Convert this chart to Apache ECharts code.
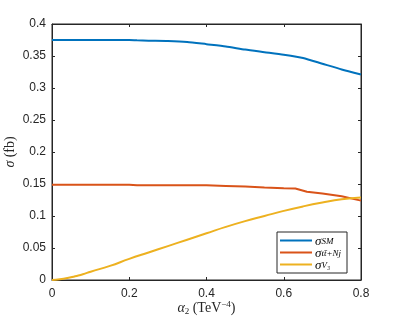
<!DOCTYPE html>
<html><head><meta charset="utf-8">
<script src="https://cdn.jsdelivr.net/npm/echarts@6/dist/echarts.min.js"></script>
<style>html,body{margin:0;padding:0;background:#fff}#c{width:399px;height:319px}</style>
</head><body><div id="c"></div>
<script>
const xSM = [0,0.05,0.1,0.15,0.2,0.22,0.25,0.3,0.35,0.4,0.45,0.5,0.55,0.6,0.65,0.7,0.75,0.8];
const ySM = [0.375,0.375,0.375,0.375,0.375,0.3745,0.374,0.3735,0.372,0.3685,0.365,0.360,0.356,0.352,0.347,0.338,0.329,0.321];
const xTT = [0,0.1,0.2,0.22,0.3,0.4,0.45,0.5,0.55,0.6,0.63,0.66,0.7,0.75,0.8];
const yTT = [0.149,0.149,0.149,0.148,0.148,0.148,0.147,0.146,0.1445,0.1435,0.143,0.138,0.135,0.131,0.124];
const xV = [0,0.02,0.04,0.06,0.08,0.1,0.15,0.2,0.25,0.3,0.35,0.4,0.45,0.5,0.55,0.6,0.65,0.7,0.75,0.8];
const yV = [0,0.001,0.003,0.006,0.009,0.013,0.022,0.033,0.043,0.053,0.063,0.073,0.083,0.092,0.100,0.108,0.115,0.121,0.126,0.129];
const xTicks = [0,0.2,0.4,0.6,0.8];
const yTicks = [0,0.05,0.1,0.15,0.2,0.25,0.3,0.35,0.4];
const names = ['SM','TT','V'];
const zip = (a,b)=>a.map((v,i)=>[v,b[i]]);
const ax = '#262626';
const font = 'Liberation Sans, Arial, sans-serif';
const serif = 'Liberation Serif, serif';
const chart = echarts.init(document.getElementById('c'));
const rich = {
  s:{fontFamily:serif,fontStyle:'italic',fontSize:13,color:'#000',lineHeight:11,verticalAlign:'top'},
  b:{fontFamily:serif,fontStyle:'italic',fontSize:9,color:'#000',lineHeight:8,padding:[4,0,0,0],verticalAlign:'bottom'}
};
const legendLabel = {SM:'{s|σ}{b|SM}', TT:'{s|σ}{b|tt̄+Nj}', V:'{s|σ}{b|V₃}'};
chart.setOption({
  animation:false,
  color:['#0072BD','#D95319','#EDB120'],
  grid:{left:52,right:38,top:24,bottom:39,containLabel:false,outerBoundsMode:'none',show:true,borderColor:ax,borderWidth:1,backgroundColor:'transparent'},
  legend:{
    right:52, bottom:46, orient:'vertical', itemWidth:32, itemHeight:2, itemGap:-3,
    padding:[1,6,1,3], borderColor:'#262626', borderWidth:1, backgroundColor:'#fff',
    icon:'rect',
    data:names,
    formatter:n=>legendLabel[n],
    textStyle:{rich:rich, lineHeight:12, fontSize:9, padding:[0,0,0,-2]}
  },
  xAxis:[{
    type:'value', min:0, max:0.8, interval:0.2,
    name:'{a|α}{b|2} {c|(TeV}{d|−4}{c|)}', nameLocation:'middle', nameGap:20, nameMoveOverlap:false,
    nameTextStyle:{rich:{a:{fontFamily:serif,fontStyle:'italic',fontSize:14,color:ax},b:{fontFamily:serif,fontSize:9,color:ax,padding:[7,0,0,0]},c:{fontFamily:serif,fontSize:14,color:ax},d:{fontFamily:serif,fontSize:9,color:ax,padding:[0,0,6,0]}}},
    axisLine:{show:true,lineStyle:{color:ax,width:1}},
    axisTick:{show:true,inside:true,length:3,lineStyle:{color:ax}},
    axisLabel:{color:ax,fontSize:12,fontFamily:font,margin:8,formatter:v=>String(+(+v).toFixed(2))},
    splitLine:{show:false}
  },{
    type:'value', position:'top', min:0, max:0.8, interval:0.2,
    axisLine:{show:true,onZero:false,lineStyle:{color:ax,width:1}},
    axisTick:{show:true,inside:true,length:3,lineStyle:{color:ax}},
    axisLabel:{show:false}, splitLine:{show:false}
  }],
  yAxis:[{
    type:'value', min:0, max:0.4, interval:0.05,
    name:'{a|σ} {c|(fb)}', nameLocation:'middle', nameGap:35, nameMoveOverlap:false,
    nameTextStyle:{rich:{a:{fontFamily:serif,fontStyle:'italic',fontSize:14,color:ax},c:{fontFamily:serif,fontSize:14,color:ax}}},
    axisLine:{show:true,lineStyle:{color:ax,width:1}},
    axisTick:{show:true,inside:true,length:3,lineStyle:{color:ax}},
    axisLabel:{color:ax,fontSize:12,fontFamily:font,margin:6,formatter:v=>String(+(+v).toFixed(2))},
    splitLine:{show:false}
  },{
    type:'value', position:'right', min:0, max:0.4, interval:0.05,
    axisLine:{show:true,onZero:false,lineStyle:{color:ax,width:1}},
    axisTick:{show:true,inside:true,length:3,lineStyle:{color:ax}},
    axisLabel:{show:false}, splitLine:{show:false}
  }],
  series:[
    {name:'SM',type:'line',data:zip(xSM,ySM),showSymbol:false,lineStyle:{width:2},smooth:0.2},
    {name:'TT',type:'line',data:zip(xTT,yTT),showSymbol:false,lineStyle:{width:2}},
    {name:'V',type:'line',data:zip(xV,yV),showSymbol:false,lineStyle:{width:2},smooth:true},
    {name:'frame',type:'line',xAxisIndex:1,yAxisIndex:1,data:[],showSymbol:false,silent:true}
  ]
});
</script></body></html>
